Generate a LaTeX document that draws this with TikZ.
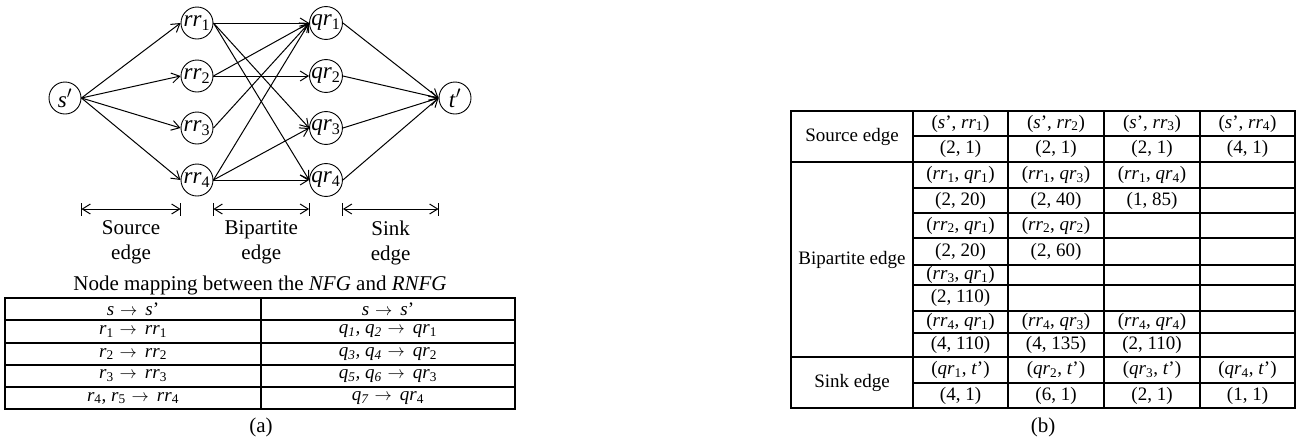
\documentclass[tikz,border=0pt]{standalone}
\usepackage{fontspec}
\setmainfont{Liberation Serif}
\usetikzlibrary{arrows.meta}
\usetikzlibrary{calc}

\newcommand{\ix}[2]{\textit{#1}\textsubscript{#2}}
\newcommand{\maps}{\hspace{6pt}$\rightarrow$\hspace{8pt}}

\tikzset{
  rnode/.style={draw, circle, line width=0.9pt, minimum size=32pt, inner sep=0pt,
    font=\fontsize{23}{24}\selectfont},
  flow/.style={line width=1pt, -{Straight Barb[length=8pt,width=10pt]}},
  span/.style={line width=1pt,
    {Straight Barb[length=8pt,width=10pt]}-{Straight Barb[length=8pt,width=10pt]}},
  lbl/.style={font=\fontsize{21}{25}\selectfont, align=center, inner sep=0pt},
  cell/.style={font=\fontsize{19}{20}\selectfont, inner sep=0pt},
  grid/.style={line width=1.4pt},
}

\begin{document}
\begin{tikzpicture}[x=1pt,y=-1pt]
  \useasboundingbox (0,0) rectangle (1310,445);

  % Nodes of the network
  \node[rnode] (sp) at (65,98) {\textit{s}$'$};
  \node[rnode] (tp) at (455,98) {\textit{t}$'$};
  \foreach \i/\y in {1/23,2/76,3/128,4/180}
  {
    \node[rnode] (rr\i) at (197,\y) {\ix{rr}{\i}};
    \node[rnode] (qr\i) at (326,\y) {\ix{qr}{\i}};
  }

  % Source and sink edges
  \foreach \i in {1,...,4}
  {
    \draw[flow] (sp.east) -- (rr\i.west);
    \draw[flow] (qr\i.east) -- (tp.west);
  }

  % Bipartite edges
  \foreach \a/\b in {1/1,1/3,1/4,2/1,2/2,3/1,4/1,4/3,4/4}
    \draw[flow] (rr\a.east) -- (qr\b.west);

  % Edge groups below the network
  \coordinate (dimy) at (0,209);
  \foreach \a/\b/\n/\t in {sp/rr1/src/Source, rr1/qr1/bip/Bipartite, qr1/tp/snk/Sink}
  {
    \coordinate (\n-a) at (\a.east |- dimy);
    \coordinate (\n-b) at (\b.west |- dimy);
    \draw[span] (\n-a) -- (\n-b);
    \draw[line width=1pt] ($(\n-a)+(0,6.5)$) -- ($(\n-a)-(0,6.5)$);
    \draw[line width=1pt] ($(\n-b)+(0,6.5)$) -- ($(\n-b)-(0,6.5)$);
    \node[lbl] (\n-lbl) at ($(\n-a)!0.5!(\n-b)+(0,33.5)$) {\t\\edge};
  }

  % Node mapping table
  \node[lbl] (maptitle) at (260,285) {Node mapping between the \textit{NFG} and \textit{RNFG}};
  \draw[grid] (5,298) rectangle (515,409);
  \foreach \y in {320,343,365,387}
    \draw[grid] (5,\y) -- (515,\y);
  \draw[grid] (261,298) -- (261,409);
  \foreach \y/\l/\r [count=\k] in {
    309/{\textit{s}\maps\textit{s}’}/{\textit{s}\maps\textit{s}’},
    331.5/{\ix{r}{1}\maps\ix{rr}{1}}/{\textit{q\textsubscript{1}, q\textsubscript{2}}\maps\ix{qr}{1}},
    354/{\ix{r}{2}\maps\ix{rr}{2}}/{\textit{q\textsubscript{3}, q\textsubscript{4}}\maps\ix{qr}{2}},
    376/{\ix{r}{3}\maps\ix{rr}{3}}/{\textit{q\textsubscript{5}, q\textsubscript{6}}\maps\ix{qr}{3}},
    398/{\ix{r}{4}, \ix{r}{5}\maps\ix{rr}{4}}/{\textit{q\textsubscript{7}}\maps\ix{qr}{4}}}
  {
    \node[cell] (ml\k) at (133,\y) {\l};
    \node[cell] (mr\k) at (388,\y) {\r};
  }
  \node[lbl] (capa) at (261,427) {(a)};

  % Edge table
  \draw[grid] (791,111) rectangle (1295,408);
  \foreach \x in {913,1008,1104,1200}
    \draw[grid] (\x,111) -- (\x,408);
  \foreach \y in {162,357}
    \draw[grid] (791,\y) -- (1295,\y);
  \foreach \y in {136,188,213,238,265,285,311,333,383}
    \draw[grid] (913,\y) -- (1295,\y);
  \node[cell] (grp1) at (852,136.5) {Source edge};
  \node[cell] (grp2) at (852,259.5) {Bipartite edge};
  \node[cell] (grp3) at (852,382.5) {Sink edge};
  \foreach \y/\a/\b/\c/\d [count=\k] in {
    123.5/{(\textit{s}’, \ix{rr}{1})}/{(\textit{s}’, \ix{rr}{2})}/{(\textit{s}’, \ix{rr}{3})}/{(\textit{s}’, \ix{rr}{4})},
    149/{(2, 1)}/{(2, 1)}/{(2, 1)}/{(4, 1)},
    175/{(\ix{rr}{1}, \ix{qr}{1})}/{(\ix{rr}{1}, \ix{qr}{3})}/{(\ix{rr}{1}, \ix{qr}{4})}/{},
    200.5/{(2, 20)}/{(2, 40)}/{(1, 85)}/{},
    225.5/{(\ix{rr}{2}, \ix{qr}{1})}/{(\ix{rr}{2}, \ix{qr}{2})}/{}/{},
    251.5/{(2, 20)}/{(2, 60)}/{}/{},
    275/{(\ix{rr}{3}, \ix{qr}{1})}/{}/{}/{},
    298/{(2, 110)}/{}/{}/{},
    322/{(\ix{rr}{4}, \ix{qr}{1})}/{(\ix{rr}{4}, \ix{qr}{3})}/{(\ix{rr}{4}, \ix{qr}{4})}/{},
    345/{(4, 110)}/{(4, 135)}/{(2, 110)}/{},
    370/{(\ix{qr}{1}, \textit{t}’)}/{(\ix{qr}{2}, \textit{t}’)}/{(\ix{qr}{3}, \textit{t}’)}/{(\ix{qr}{4}, \textit{t}’)},
    395.5/{(4, 1)}/{(6, 1)}/{(2, 1)}/{(1, 1)}}
  {
    \node[cell] (e\k-1) at (960.5,\y) {\a};
    \node[cell] (e\k-2) at (1056,\y) {\b};
    \node[cell] (e\k-3) at (1152,\y) {\c};
    \node[cell] (e\k-4) at (1247.5,\y) {\d};
  }
  \node[lbl] (capb) at (1043,427) {(b)};
\end{tikzpicture}
\end{document}
